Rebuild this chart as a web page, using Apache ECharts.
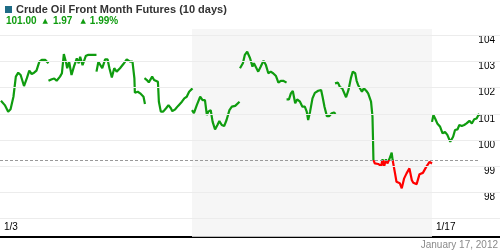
<!DOCTYPE html>
<html><head><meta charset="utf-8">
<script src="https://cdn.jsdelivr.net/npm/echarts@6/dist/echarts.min.js"></script>
<style>html,body{margin:0;padding:0;background:#fff}#c{width:500px;height:250px}</style>
</head><body><div id="c"></div>
<script>
// ---- data ----
const dayNames = ['1/3','1/4','1/5','1/6','1/9','1/10','1/11','1/12','1/13','1/17'];
const axisDays = [0, 4, 9];              // indices of labelled days
const shadedWeek = [4, 9];               // week of 1/9 .. 1/13
const gridTicks = [97, 98, 99, 100, 101, 102, 103, 104];
const priceLabels = [98, 99, 100, 101, 102, 103, 104];
const refLine = 99.22;                   // dashed reference level
const headerLast = '101.00', headerChg = '1.97', headerPct = '1.99%';
const dateText = 'January 17, 2012';

// intraday [fraction of day, price]
const d0103 = [[0.02,101.50],[0.10,101.33],[0.17,101.08],[0.22,101.17],[0.28,101.65],[0.33,102.42],[0.38,102.57],[0.43,102.48],[0.50,102.06],[0.56,102.36],[0.61,102.65],[0.66,102.52],[0.71,102.57],[0.76,102.65],[0.82,102.99],[0.87,103.06],[0.94,103.06],[1.01,102.93]];
const d0104 = [[0.01,102.26],[0.08,102.32],[0.13,102.35],[0.18,102.26],[0.25,102.42],[0.29,102.55],[0.33,103.28],[0.38,102.93],[0.40,102.74],[0.44,102.99],[0.49,102.48],[0.54,102.80],[0.60,103.12],[0.64,102.93],[0.67,103.18],[0.72,102.86],[0.79,103.22],[0.84,103.25],[1.01,103.25]];
const d0105 = [[0.01,102.61],[0.05,102.99],[0.08,102.93],[0.13,102.74],[0.19,103.08],[0.24,103.08],[0.28,102.74],[0.33,102.39],[0.38,102.74],[0.43,102.61],[0.50,102.74],[0.57,102.90],[0.64,103.08],[0.71,102.99],[0.76,102.99],[0.80,102.35],[0.81,101.80],[0.87,101.84],[0.92,101.78],[0.95,101.84],[0.99,101.65],[1.02,101.37]];
const d0106 = [[0.01,102.36],[0.06,102.29],[0.10,102.20],[0.17,102.42],[0.21,102.29],[0.25,102.22],[0.29,102.22],[0.31,101.46],[0.35,101.08],[0.40,101.08],[0.46,101.21],[0.51,101.33],[0.56,101.21],[0.59,101.10],[0.65,101.17],[0.71,101.30],[0.79,101.46],[0.84,101.59],[0.89,101.65],[0.94,101.84],[1.01,101.97]];
const d0109 = [[0.00,101.14],[0.04,101.02],[0.10,101.33],[0.17,101.65],[0.22,101.52],[0.27,101.52],[0.31,100.95],[0.34,101.08],[0.39,101.14],[0.43,100.69],[0.48,100.40],[0.53,100.57],[0.57,100.72],[0.62,100.57],[0.67,100.53],[0.72,100.76],[0.78,101.14],[0.83,101.27],[0.90,101.30],[0.94,101.33],[0.99,101.46]];
const d0110 = [[0.00,102.74],[0.06,102.93],[0.10,103.25],[0.15,103.37],[0.21,103.12],[0.26,102.80],[0.29,102.93],[0.33,102.86],[0.38,102.61],[0.43,102.80],[0.49,103.03],[0.54,102.86],[0.59,102.55],[0.64,102.61],[0.69,102.55],[0.75,102.44],[0.80,102.19],[0.85,102.26],[0.90,102.26],[0.97,102.19]];
const d0111 = [[-0.03,101.55],[0.02,101.55],[0.06,101.78],[0.10,101.87],[0.15,101.40],[0.19,101.55],[0.25,101.46],[0.30,101.27],[0.35,101.27],[0.39,101.08],[0.42,100.76],[0.46,101.08],[0.51,101.59],[0.56,101.80],[0.63,101.88],[0.69,101.91],[0.72,101.65],[0.76,101.27],[0.81,100.91],[0.86,100.91],[0.91,101.02],[0.96,101.05],[0.99,100.99]];
const d0112 = [[-0.02,102.16],[0.04,102.19],[0.08,102.03],[0.13,101.97],[0.17,101.91],[0.21,101.63],[0.26,101.91],[0.31,102.36],[0.35,102.61],[0.40,102.55],[0.43,102.26],[0.46,102.10],[0.50,102.16],[0.54,101.84],[0.58,101.97],[0.63,101.88],[0.67,101.78],[0.73,101.46],[0.76,100.89],[0.77,100.12],[0.78,99.23],[0.81,99.10],[0.88,99.08],[0.94,99.00],[0.97,99.26],[1.00,98.97]];
const d0113 = [[0.00,98.97],[0.04,99.26],[0.07,99.10],[0.11,99.26],[0.16,99.51],[0.18,99.23],[0.23,98.72],[0.26,98.40],[0.33,98.34],[0.37,98.15],[0.42,98.53],[0.47,98.72],[0.53,98.91],[0.58,98.46],[0.61,98.36],[0.68,98.31],[0.74,98.69],[0.81,98.74],[0.88,98.97],[0.95,99.16],[1.00,99.10]];
const d0117 = [[0.00,100.69],[0.03,100.95],[0.07,100.80],[0.11,100.63],[0.17,100.50],[0.22,100.25],[0.27,100.31],[0.32,100.19],[0.38,99.93],[0.41,99.87],[0.44,100.12],[0.48,100.38],[0.53,100.40],[0.57,100.57],[0.62,100.53],[0.67,100.57],[0.72,100.63],[0.78,100.73],[0.83,100.63],[0.88,100.79],[0.93,100.82],[0.98,101.00]];
const sessions = [d0103, d0104, d0105, d0106, d0109, d0110, d0111, d0112, d0113, d0117];

// ---- build ----
const priceData = [];
sessions.forEach((s, i) => {
  s.forEach(([t, p]) => priceData.push([i + t, p]));
  priceData.push([i + 1, null]);
});

const GREEN = '#0f9c0f', RED = '#ff0000';
const FONT = 'Liberation Sans, Arial';
const chart = echarts.init(document.getElementById('c'), null, {renderer: 'canvas'});
chart.setOption({
  animation: false,
  backgroundColor: '#fff',
  title: [
    { left: 5, top: 4, padding: 0,
      text: '{sq|}{t|Crude Oil Front Month Futures (10 days)}',
      textStyle: { rich: {
        sq: { width: 7, height: 7, backgroundColor: '#1f6c86' },
        t: { fontFamily: FONT, fontWeight: 'bold', fontSize: 11, color: '#333', padding: [0,0,0,4] }
      }}
    },
    { left: 6, top: 16, padding: 0,
      text: '{v|' + headerLast + '}{a|▲}{v|' + headerChg + '}{b|▲}{v|' + headerPct + '}',
      textStyle: { rich: {
        v: { fontFamily: FONT, fontSize: 10, color: GREEN },
        a: { fontFamily: 'DejaVu Sans', fontSize: 7, color: GREEN, padding: [0,5,0,6] },
        b: { fontFamily: 'DejaVu Sans', fontSize: 7, color: GREEN, padding: [0,4,0,8] }
      }}
    },
    { right: 2, top: 240, padding: 0, text: dateText,
      textStyle: { fontFamily: FONT, fontWeight: 'normal', fontSize: 10, color: '#8a8a8a' } }
  ],
  grid: { left: 0, right: 0, top: 29, bottom: 13.3 },
  xAxis: {
    type: 'value', min: 0, max: 10.4167,
    splitLine: { show: false },
    axisTick: { show: false },
    axisLine: { show: true, lineStyle: { color: '#000', width: 2 } },
    axisLabel: {
      inside: true, customValues: axisDays, margin: 4, align: 'left', padding: [0,0,0,4],
      fontFamily: FONT, fontSize: 10, color: '#000',
      formatter: v => dayNames[Math.round(v)]
    }
  },
  yAxis: {
    type: 'value', position: 'right', min: 96.3, max: 104.24,
    splitLine: { show: false }, axisTick: { show: false }, axisLine: { show: false },
    axisLabel: {
      inside: true, customValues: priceLabels, margin: 5, verticalAlign: 'top',
      fontFamily: FONT, fontSize: 10, color: '#000'
    }
  },
  visualMap: {
    show: false, type: 'piecewise', seriesIndex: 1, dimension: 1,
    pieces: [ { gt: refLine, lte: 200, color: GREEN }, { gte: 0, lte: refLine, color: RED } ],
    outOfRange: { color: GREEN }
  },
  series: [
    { type: 'line', z: 1, data: [], silent: true,
      markArea: { silent: true, itemStyle: { color: '#f6f6f6' },
        data: [[{ xAxis: shadedWeek[0] }, { xAxis: shadedWeek[1] }]] },
      markLine: { silent: true, symbol: 'none', label: { show: false },
        lineStyle: { color: '#ececec', width: 1, type: 'solid' },
        data: gridTicks.map(v => ({ yAxis: v }))
          .concat([[{ coord: [0, refLine], lineStyle: { color: '#999', type: [3, 2], width: 1 } },
                    { coord: [sessions.length, refLine] }]]) }
    },
    { type: 'line', z: 3, data: priceData, showSymbol: false, symbol: 'none',
      connectNulls: false, lineStyle: { width: 2.2 } }
  ]
});
</script></body></html>
